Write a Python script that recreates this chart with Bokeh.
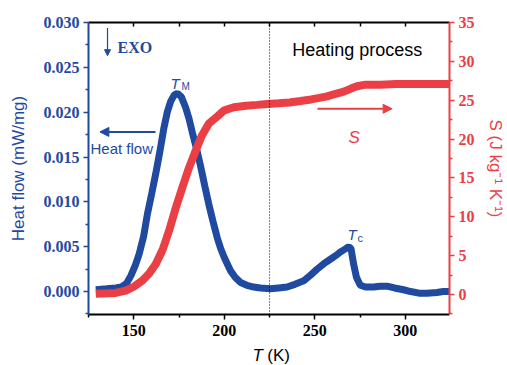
from bokeh.plotting import figure
from bokeh.layouts import column
from bokeh.models import (Range1d, LinearAxis, FixedTicker, PrintfTickFormatter,
                          Span, Label, Arrow, NormalHead)
from bokeh.core.properties import value
from bokeh.embed import file_html
from bokeh.resources import INLINE

# ---------------- data ----------------
T_hf = [129, 135, 140, 143, 146, 148.5, 151, 153, 155.5, 157.6, 160, 162.1, 164.5,
        166.7, 168.5, 170.4, 172.3, 174.1, 176.3, 178.7, 180.5, 182.4, 184.6, 186.9,
        189.2, 191.5, 193.8, 196.1, 198, 200, 203.5, 206, 209, 212.5, 216.3, 220,
        225.5, 230, 234.7, 239, 243.9, 247.5, 251.3, 255, 258.6, 261.5, 264.1, 266.5,
        268.7, 270, 271.4, 273, 275.1, 278, 282.5, 286, 289.9, 294, 299, 303, 308.2,
        312, 317.4, 321, 324.5]
heat_flow = [0.0002, 0.0003, 0.0004, 0.0005, 0.0009, 0.0018, 0.0030, 0.0042, 0.0062,
             0.0087, 0.0110, 0.0131, 0.0157, 0.0183, 0.0200, 0.0212, 0.0219, 0.0221,
             0.0217, 0.0205, 0.0193, 0.0177, 0.0160, 0.0140, 0.0118, 0.0097, 0.0078,
             0.0060, 0.0048, 0.0038, 0.0023, 0.0016, 0.0010, 0.0007, 0.0005, 0.0004,
             0.0003, 0.0004, 0.0005, 0.0008, 0.0012, 0.0018, 0.0025, 0.0031, 0.0036,
             0.0040, 0.0044, 0.0047, 0.0050, 0.0048, 0.0031, 0.0016, 0.0007, 0.0005,
             0.0005, 0.0006, 0.0006, 0.0004, 0.0002, 0.0000, -0.0002, -0.0002, -0.0001,
             0.0000, 0.0000]

T_s = [129, 140, 145.6, 150, 154.8, 158.5, 162.1, 166, 169.5, 173, 176.9, 180.5, 184.2,
       187.5, 191.5, 196.1, 200, 205.3, 212, 218, 223.7, 230, 236, 242.1, 248, 252.5,
       256.8, 261, 266, 270, 273.3, 278, 286.2, 295, 304.5, 314, 324.5]
entropy = [0.1, 0.2, 0.5, 1.0, 1.8, 2.7, 3.9, 5.8, 8.2, 11.0, 13.8, 16.3, 18.5, 20.4,
           22.0, 22.9, 23.7, 24.1, 24.3, 24.4, 24.5, 24.6, 24.7, 24.9, 25.1, 25.3, 25.5,
           25.8, 26.1, 26.5, 26.8, 27.0, 27.0, 27.1, 27.1, 27.1, 27.1]

x_ticks = [150, 200, 250, 300]
x_minor = [125, 175, 225, 275, 325]
x_top_ticks = [150, 175, 200, 225, 250, 275, 300]
hf_ticks = [0.0, 0.005, 0.010, 0.015, 0.020, 0.025, 0.030]
hf_minor = [-0.0025, 0.0025, 0.0075, 0.0125, 0.0175, 0.0225, 0.0275]
s_ticks = [0, 5, 10, 15, 20, 25, 30, 35]
s_minor = [-2.5, 2.5, 7.5, 12.5, 17.5, 22.5, 27.5, 32.5]

BLUE = "#1f4aa0"
RED = "#ea4045"
SERIF = "Liberation Serif"
SANS = "Liberation Sans"

p = figure(width=507, height=345, output_backend="svg", toolbar_location=None,
           x_range=Range1d(125, 324.4), y_range=Range1d(-0.00256, 0.030),
           min_border_left=88, min_border_right=58, min_border_top=22,
           min_border_bottom=31, x_axis_location=None, y_axis_location=None)
p.grid.visible = False
p.outline_line_color = None
p.background_fill_color = "white"
p.border_fill_color = "white"
p.extra_y_ranges = {"S": Range1d(-2.57, 35)}


def style_axis(ax, col):
    ax.axis_line_color = col
    ax.axis_line_width = 2
    ax.major_tick_line_color = col
    ax.major_tick_line_width = 1.5
    ax.minor_tick_line_color = col
    ax.minor_tick_line_width = 1.5
    ax.major_tick_out = 5
    ax.major_tick_in = 0
    ax.minor_tick_out = 3
    ax.minor_tick_in = 0
    ax.major_label_text_color = col
    ax.major_label_text_font = SERIF
    ax.major_label_text_font_style = "bold"
    ax.major_label_text_font_size = "16px"
    ax.axis_label_text_color = col
    ax.axis_label_text_font = SANS
    ax.axis_label_text_font_style = "normal"
    ax.axis_label_text_font_size = "17px"


# left axis
ly = LinearAxis(ticker=FixedTicker(ticks=hf_ticks, minor_ticks=hf_minor),
                formatter=PrintfTickFormatter(format="%.3f"),
                axis_label="Heat flow (mW/mg)")
style_axis(ly, BLUE)
ly.major_label_standoff = 4
ly.axis_label_standoff = 13
p.add_layout(ly, "left")

# right axis
ry = LinearAxis(y_range_name="S", ticker=FixedTicker(ticks=s_ticks, minor_ticks=s_minor),
                axis_label="S (J kg\u207b\u00b9 K\u207b\u00b9)")
style_axis(ry, RED)
ry.major_label_standoff = 4
ry.axis_label_standoff = 8
p.add_layout(ry, "right")

# bottom axis
bx = LinearAxis(ticker=FixedTicker(ticks=x_ticks, minor_ticks=x_minor))
style_axis(bx, "black")
bx.major_label_standoff = 5
p.add_layout(bx, "below")

# top axis (inward ticks only, no labels)
tx = LinearAxis(ticker=FixedTicker(ticks=[], minor_ticks=x_top_ticks))
tx.axis_line_color = "black"
tx.axis_line_width = 2
tx.minor_tick_line_color = "black"
tx.minor_tick_line_width = 1.5
tx.minor_tick_out = 0
tx.minor_tick_in = 4
tx.major_label_standoff = 0
p.add_layout(tx, "above")

# dotted vertical line
p.add_layout(Span(location=225, dimension="height", line_color="black",
                  line_width=1, line_dash="1 2"))

# curves
p.line(T_hf, heat_flow, line_color=BLUE, line_width=7)
p.line(T_s, entropy, line_color=RED, line_width=8, y_range_name="S")

# annotations
p.add_layout(Arrow(end=NormalHead(size=6, fill_color=BLUE, line_color=BLUE),
                   x_start=135.5, y_start=0.0294, x_end=135.5, y_end=0.0263,
                   line_color=BLUE, line_width=1.2))
p.add_layout(Label(x=141, y=0.0272, text="EXO", text_color=BLUE, text_font=SERIF,
                   text_font_style="bold", text_font_size="16px",
                   text_baseline="middle"))

p.add_layout(Arrow(end=NormalHead(size=9, fill_color=BLUE, line_color=BLUE),
                   x_start=162, y_start=0.0178, x_end=131.3, y_end=0.0178,
                   line_color=BLUE, line_width=2))
p.add_layout(Label(x=126.1, y=0.0160, text="Heat flow", text_color=BLUE, text_font=SANS,
                   text_font_size="15px", text_baseline="middle"))

p.add_layout(Label(x=170.3, y=0.0232, text="T", text_color=BLUE, text_font=SANS,
                   text_font_style="italic", text_font_size="15px",
                   text_baseline="alphabetic"))
p.add_layout(Label(x=176.4, y=0.0229, text="M", text_color=BLUE, text_font=SANS,
                   text_font_size="10px", text_baseline="alphabetic"))

p.add_layout(Label(x=268.0, y=0.0064, text="T", text_color=BLUE, text_font=SANS,
                   text_font_style="italic", text_font_size="15px",
                   text_baseline="alphabetic"))
p.add_layout(Label(x=273.6, y=0.0060, text="c", text_color=BLUE, text_font=SANS,
                   text_font_size="11px", text_baseline="alphabetic"))

p.add_layout(Label(x=237.5, y=0.0269, text="Heating process", text_color="black",
                   text_font=SANS, text_font_size="18px", text_baseline="alphabetic"))

p.add_layout(Arrow(end=NormalHead(size=9, fill_color=RED, line_color=RED),
                   x_start=251.5, y_start=23.9, x_end=292.7, y_end=23.9,
                   line_color=RED, line_width=2, y_range_name="S"))
p.add_layout(Label(x=268.6, y=20.2, y_range_name="S", text="S", text_color=RED,
                   text_font=SANS, text_font_style="italic", text_font_size="17px",
                   text_baseline="alphabetic"))

# strip below the chart holding the x-axis title "T (K)" (italic T)
p2 = figure(width=507, height=20, output_backend="svg", toolbar_location=None,
            x_range=p.x_range, y_range=Range1d(0, 20),
            min_border=0, min_border_left=88, min_border_right=58,
            x_axis_location=None, y_axis_location=None)
p2.grid.visible = False
p2.outline_line_color = None
p2.border_fill_color = "white"
p2.text(x=[215.6], y=[10], text=["T"], text_color="black", text_font=value(SANS),
        text_font_style="italic", text_font_size="17px", text_baseline="alphabetic")
p2.text(x=[223.8], y=[10], text=["(K)"], text_color="black", text_font=value(SANS),
        text_font_size="17px", text_baseline="alphabetic")

layout = column(p, p2, spacing=0)
open("out.html", "w").write(file_html(layout, INLINE))
